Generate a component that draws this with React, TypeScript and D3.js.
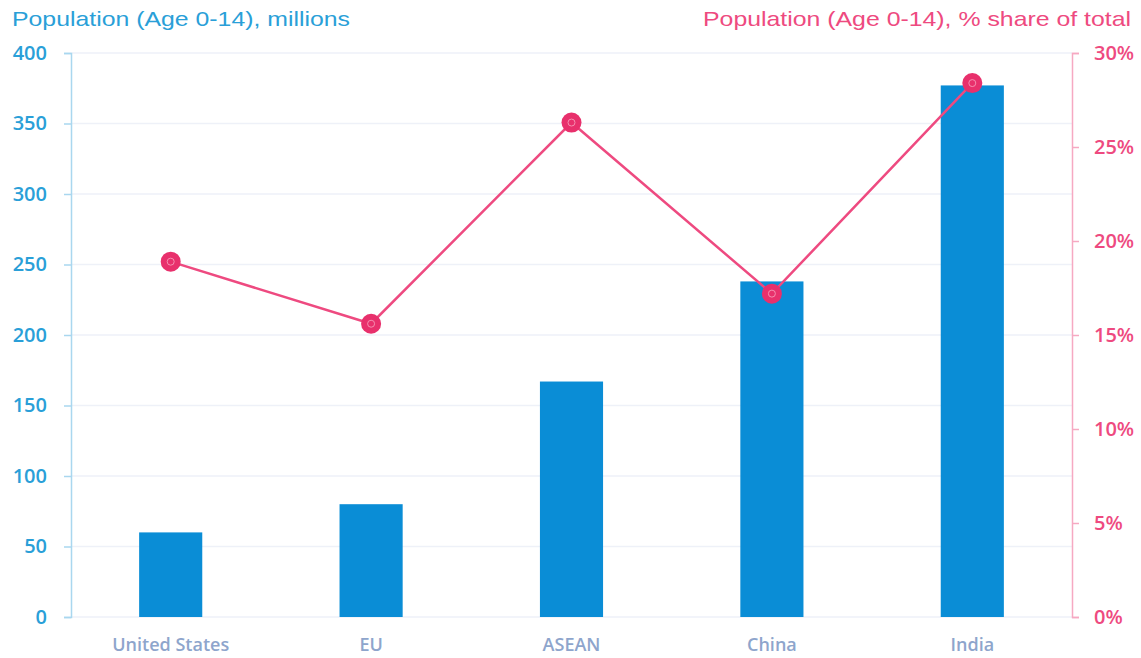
import React, { useEffect, useRef } from "react";
import * as d3 from "d3";

const categories = ["United States", "EU", "ASEAN", "China", "India"];
const populationMillions = [60, 80, 167, 238, 377];
const shareOfTotal = [18.9, 15.6, 26.3, 17.2, 28.4];
const leftTicks = [0, 50, 100, 150, 200, 250, 300, 350, 400];
const rightTicks = [0, 5, 10, 15, 20, 25, 30];

const App = () => {
  const svgRef = useRef<SVGSVGElement>(null);

  useEffect(() => {
    const w = 1141;
    const h = 658;
    const m = { top: 53, right: 69, bottom: 41, left: 71 };
    const svg = d3.select(svgRef.current);
    svg.selectAll("*").remove();

    const x = d3
      .scaleBand()
      .domain(categories)
      .range([m.left, w - m.right])
      .paddingInner(0.685)
      .paddingOuter(0.34);
    const y = d3.scaleLinear().domain([0, 400]).range([h - m.bottom, m.top]);
    const y2 = d3.scaleLinear().domain([0, 30]).range([h - m.bottom, m.top]);

    const blue = "#2a9fd8";
    const pink = "#ee4a80";
    const font = "'Open Sans', sans-serif";

    // gridlines
    svg
      .append("g")
      .selectAll("line")
      .data(leftTicks)
      .join("line")
      .attr("x1", m.left)
      .attr("x2", w - m.right)
      .attr("y1", (d) => y(d))
      .attr("y2", (d) => y(d))
      .attr("stroke", "#eef1f8")
      .attr("stroke-width", 1.5);

    // bars
    svg
      .append("g")
      .selectAll("rect")
      .data(populationMillions)
      .join("rect")
      .attr("x", (d, i) => x(categories[i])!)
      .attr("width", x.bandwidth())
      .attr("y", (d) => y(d))
      .attr("height", (d) => y(0) - y(d))
      .attr("fill", "#0a8dd6");

    // left axis
    const left = svg
      .append("g")
      .attr("transform", `translate(${m.left},0)`)
      .call(d3.axisLeft(y).tickValues(leftTicks).tickSize(7).tickPadding(17));
    left.select(".domain").attr("stroke", "#a9d7ef").attr("stroke-width", 1.5);
    left.selectAll(".tick line").attr("stroke", "#a9d7ef").attr("stroke-width", 1.5);
    left
      .selectAll(".tick text")
      .attr("fill", blue)
      .attr("font-size", 20)
      .attr("font-weight", 600)
      .attr("font-family", font);

    // right axis
    const right = svg
      .append("g")
      .attr("transform", `translate(${w - m.right},0)`)
      .call(
        d3
          .axisRight(y2)
          .tickValues(rightTicks)
          .tickFormat((d) => `${d}%`)
          .tickSize(7)
          .tickPadding(15)
      );
    right.select(".domain").attr("stroke", "#f6a9c2").attr("stroke-width", 1.5);
    right.selectAll(".tick line").attr("stroke", "#f6a9c2").attr("stroke-width", 1.5);
    right
      .selectAll(".tick text")
      .attr("fill", pink)
      .attr("font-size", 20)
      .attr("font-weight", 600)
      .attr("font-family", font);

    // category labels
    svg
      .append("g")
      .selectAll("text")
      .data(categories)
      .join("text")
      .attr("x", (d) => x(d)! + x.bandwidth() / 2)
      .attr("y", 651)
      .attr("text-anchor", "middle")
      .attr("fill", "#8ea5cc")
      .attr("font-size", 18)
      .attr("font-weight", 600)
      .attr("font-family", font)
      .text((d) => d);

    // line
    const cx = (i: number) => x(categories[i])! + x.bandwidth() / 2;
    const line = d3
      .line<number>()
      .x((d, i) => cx(i))
      .y((d) => y2(d));
    svg
      .append("path")
      .datum(shareOfTotal)
      .attr("d", line)
      .attr("fill", "none")
      .attr("stroke", pink)
      .attr("stroke-width", 2.5);

    const dots = svg.append("g");
    dots
      .selectAll("circle.outer")
      .data(shareOfTotal)
      .join("circle")
      .attr("class", "outer")
      .attr("cx", (d, i) => cx(i))
      .attr("cy", (d) => y2(d))
      .attr("r", 10)
      .attr("fill", "#e8306c");
    dots
      .selectAll("circle.inner")
      .data(shareOfTotal)
      .join("circle")
      .attr("class", "inner")
      .attr("cx", (d, i) => cx(i))
      .attr("cy", (d) => y2(d))
      .attr("r", 3.5)
      .attr("fill", "none")
      .attr("stroke", "#f58fb0")
      .attr("stroke-width", 1);

    // titles
    svg
      .append("text")
      .attr("x", 12)
      .attr("y", 26)
      .attr("fill", blue)
      .attr("font-size", 21)
      .attr("font-family", "'Liberation Sans', Arial, sans-serif")
      .attr("textLength", 338)
      .attr("lengthAdjust", "spacingAndGlyphs")
      .text("Population  (Age 0-14),  millions");
    svg
      .append("text")
      .attr("x", 703)
      .attr("y", 26)
      .attr("fill", pink)
      .attr("font-size", 21)
      .attr("font-family", "'Liberation Sans', Arial, sans-serif")
      .attr("textLength", 428)
      .attr("lengthAdjust", "spacingAndGlyphs")
      .text("Population  (Age 0-14),  % share of total");
  }, []);

  return (
    <svg
      ref={svgRef}
      width={1141}
      height={658}
      style={{ position: "absolute", left: 0, top: 0, background: "#fff" }}
    ></svg>
  );
};

export default App;
